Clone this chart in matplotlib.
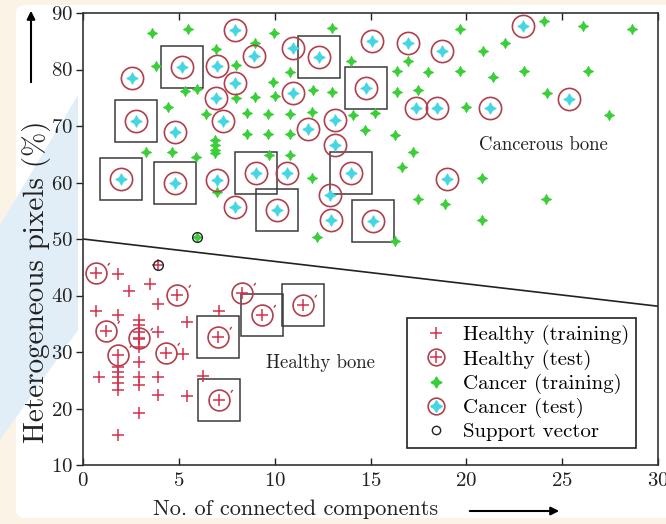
import numpy as np
import matplotlib
matplotlib.use('Agg')
import matplotlib.pyplot as plt
from matplotlib.lines import Line2D
from matplotlib.path import Path
from matplotlib.patches import Polygon, FancyBboxPatch

plt.rcParams['font.family'] = ['cmr10', 'DejaVu Serif']
plt.rcParams['axes.formatter.use_mathtext'] = True

# ---- data ----
healthy_train_x = [1.85, 2.4, 3.5, 3.9, 0.7, 1.85, 2.9, 2.9, 2.9, 2.9, 2.9, 3.9, 5.4, 7.1, 5.2,
                   2.9, 1.85, 1.85, 1.85, 1.85, 1.85, 0.85, 2.9, 2.9, 3.9, 3.9, 5.4, 6.25, 2.9,
                   1.85, 3.9]
healthy_train_y = [43.8, 40.8, 42.0, 38.5, 37.3, 36.5, 35.7, 34.8, 33.5, 32.3, 30.9, 33.5, 35.3,
                   37.3, 29.6, 28.2, 27.3, 26.5, 25.6, 24.5, 23.3, 25.6, 25.6, 24.2, 25.6, 22.4,
                   22.2, 25.8, 19.2, 15.3, 45.4]

healthy_test_x = [0.7, 4.88, 8.28, 9.33, 11.48, 7.03, 7.08, 1.22, 2.9, 1.85, 4.35]
healthy_test_y = [44.0, 40.1, 40.4, 36.5, 38.3, 32.7, 21.5, 33.7, 32.5, 29.5, 29.8]
healthy_boxed = [3, 4, 5, 6]

cancer_train_x = [3.58, 5.46, 9.96, 12.98, 8.95, 6.92, 3.83, 7.96, 13.97, 5.93, 5.3, 7.96, 8.95,
                  10.0, 9.9, 10.78, 11.98, 12.98, 4.42, 6.4, 8.54, 9.63, 10.78, 11.93, 14.08,
                  14.7, 8.57, 9.66, 10.78, 6.87, 6.87, 6.87, 6.87, 3.31, 4.62, 5.88, 9.69, 10.78,
                  11.93, 6.97, 12.2, 16.3, 17.2, 16.65, 20.83, 17.48, 18.89, 24.17, 20.83, 16.3,
                  19.67, 24.06, 26.1, 28.66, 22.0, 20.88, 16.95, 16.38, 18.0, 19.67, 21.4, 23.02,
                  26.36, 16.38, 17.47, 24.22, 19.98, 15.23, 27.46, 5.93]
cancer_train_y = [86.5, 87.2, 86.5, 87.3, 84.7, 83.6, 80.6, 80.8, 81.5, 76.5, 76.2, 75.0, 75.1,
                  75.3, 77.8, 79.6, 76.4, 76.0, 73.4, 72.1, 72.3, 72.1, 72.1, 72.5, 71.9, 69.3,
                  68.6, 68.6, 68.6, 67.5, 66.7, 65.8, 65.2, 65.4, 65.4, 64.5, 64.9, 64.9, 60.8,
                  58.3, 50.4, 68.4, 65.4, 62.7, 60.8, 57.1, 56.2, 57.1, 53.4, 49.6, 87.2, 88.6,
                  87.7, 87.2, 84.7, 83.3, 81.5, 79.7, 79.6, 79.7, 78.7, 79.7, 79.7, 76.0, 76.4,
                  75.8, 73.4, 72.3, 71.9, 50.4]

cancer_test_x = [2.58, 5.19, 6.97, 7.91, 8.9, 7.91, 6.92, 7.28, 2.79, 10.94, 10.94, 12.3, 15.07,
                 11.73, 13.14, 16.95, 14.76, 18.73, 17.37, 18.47, 21.24, 22.96, 25.37, 4.78, 2.0,
                 4.78, 6.97, 9.01, 10.63, 13.14, 12.88, 13.97, 7.91, 10.1, 12.93, 15.12, 19.0]
cancer_test_y = [78.5, 80.4, 80.6, 87.0, 82.4, 77.6, 75.0, 70.9, 70.9, 83.8, 75.8, 82.2, 85.0,
                 69.5, 71.1, 84.7, 76.7, 83.3, 73.2, 73.2, 73.2, 87.7, 74.8, 68.9, 60.6, 59.9,
                 60.4, 61.7, 61.7, 66.6, 57.8, 61.7, 55.7, 55.1, 53.4, 53.2, 60.6]
cancer_boxed = [1, 8, 11, 16, 24, 25, 27, 31, 33, 35]

sv_x = [3.9, 5.93]
sv_y = [45.4, 50.4]

boundary_x = [0, 30]
boundary_y = [50.0, 38.1]

W, H = 666, 524
fig = plt.figure(figsize=(W / 100, H / 100), dpi=100)
fig.patch.set_facecolor('#fbf4e6')

def fx(px):
    return px / W

def fy(py):
    return 1 - py / H

# white page + pale watermark behind everything
fig.patches.append(FancyBboxPatch((fx(16), fy(518)), fx(700) - fx(16), fy(5) - fy(518),
                                  boxstyle='round,pad=0,rounding_size=0.015',
                                  transform=fig.transFigure, facecolor='white',
                                  edgecolor='none', zorder=-3))
fig.patches.append(Polygon([(fx(78), fy(95)), (fx(0), fy(225)), (fx(0), fy(440)), (fx(78), fy(330))],
                           closed=True, transform=fig.transFigure, facecolor='#e2eef7',
                           edgecolor='none', zorder=-2))

ax = fig.add_axes([fx(83), fy(465), fx(658) - fx(83), fy(13) - fy(465)])

red = '#d5304c'
ring = '#b0404e'
green = '#38cf38'
cyan = '#45d6e6'
star = (4, 1, 0)
# little stroke at the upper right of the healthy test rings
nick = Path([(0.86, 0.6), (1.0, 0.8)], [Path.MOVETO, Path.LINETO])

# boxes around highlighted test points
bx = [cancer_test_x[i] for i in cancer_boxed] + [healthy_test_x[i] for i in healthy_boxed]
by = [cancer_test_y[i] for i in cancer_boxed] + [healthy_test_y[i] for i in healthy_boxed]
ax.plot(bx, by, 's', ms=30, mfc='none', mec='#3a3a3a', mew=1.1, zorder=2)

ax.plot(boundary_x, boundary_y, '-', color='#222222', lw=1.2, zorder=2)

ax.plot(healthy_train_x, healthy_train_y, '+', ms=8, mew=1.1, color=red, zorder=3)
ax.plot(healthy_test_x, healthy_test_y, 'o', ms=15, mfc='none', mec=ring, mew=1.2, zorder=3)
ax.plot(healthy_test_x, healthy_test_y, marker=nick, ls='none', ms=19, mfc='none', mec=ring,
        mew=1.0, zorder=3)
ax.plot(healthy_test_x, healthy_test_y, '+', ms=9, mew=1.1, color=red, zorder=3)

ax.plot(cancer_train_x, cancer_train_y, marker=star, ls='none', ms=7.5, color=green, mew=0.5, zorder=3)
ax.plot(cancer_test_x, cancer_test_y, 'o', ms=16, mfc='none', mec=ring, mew=1.2, zorder=4)
ax.plot(cancer_test_x, cancer_test_y, marker=star, ls='none', ms=8.5, color=cyan, mew=0.5, zorder=4)

ax.plot(sv_x, sv_y, 'o', ms=7, mfc='none', mec='#222222', mew=1.0, zorder=5)

ax.text(24.0, 66.6, 'Cancerous bone', fontsize=13.5, ha='center', va='center', color='#222222')
ax.text(12.4, 28.1, 'Healthy bone', fontsize=13.5, ha='center', va='center', color='#222222')

ax.set_xlim(0, 30)
ax.set_ylim(10, 90)
ax.set_xticks(range(0, 31, 5))
ax.set_yticks(range(10, 91, 10))
ax.tick_params(labelsize=15, colors='#222222', length=5, width=1)
ax.tick_params(axis='x', direction='in', top=True, pad=5)
ax.tick_params(axis='y', direction='out', pad=2)
for s in ax.spines.values():
    s.set_linewidth(1.2)
    s.set_color('#333333')

ax.set_xlabel('No. of connected components', fontsize=16, color='#222222')
ax.xaxis.set_label_coords(0.369, -0.077)
ax.set_ylabel('Heterogeneous pixels (%)', fontsize=21, color='#222222')
ax.yaxis.set_label_coords(-0.056, 0.405)

# arrows next to axis labels
ax.annotate('', xy=(fx(31), fy(8)), xytext=(fx(31), fy(85)), xycoords='figure fraction',
            annotation_clip=False,
            arrowprops=dict(arrowstyle='-|>', color='black', lw=1.5, mutation_scale=12))
ax.annotate('', xy=(fx(562), fy(511)), xytext=(fx(467), fy(511)), xycoords='figure fraction',
            annotation_clip=False,
            arrowprops=dict(arrowstyle='-|>', color='black', lw=1.5, mutation_scale=12))

# legend with overlaid markers
h1 = Line2D([], [], ls='none', marker='+', ms=8, mew=1.1, color=red)
h2 = (Line2D([], [], ls='none', marker='o', ms=12, mfc='none', mec=ring, mew=1.2),
      Line2D([], [], ls='none', marker='+', ms=8, mew=1.1, color=red))
h3 = Line2D([], [], ls='none', marker=star, ms=8, color=green)
h4 = (Line2D([], [], ls='none', marker='o', ms=12, mfc='none', mec=ring, mew=1.2),
      Line2D([], [], ls='none', marker=star, ms=8.5, color=cyan))
h5 = Line2D([], [], ls='none', marker='o', ms=6, mfc='none', mec='#222222', mew=1.0)
leg = ax.legend([h1, h2, h3, h4, h5],
                ['Healthy (training)', 'Healthy (test)', 'Cancer (training)', 'Cancer (test)',
                 'Support vector'],
                loc='lower right', bbox_to_anchor=(0.962, 0.037), borderaxespad=0,
                fontsize=15, fancybox=False, framealpha=1, edgecolor='#222222',
                handlelength=2.0, handletextpad=0.3, labelspacing=0.2, borderpad=0.35)
leg.get_frame().set_linewidth(1.2)

fig.savefig('out.png', dpi=100, facecolor=fig.get_facecolor())
